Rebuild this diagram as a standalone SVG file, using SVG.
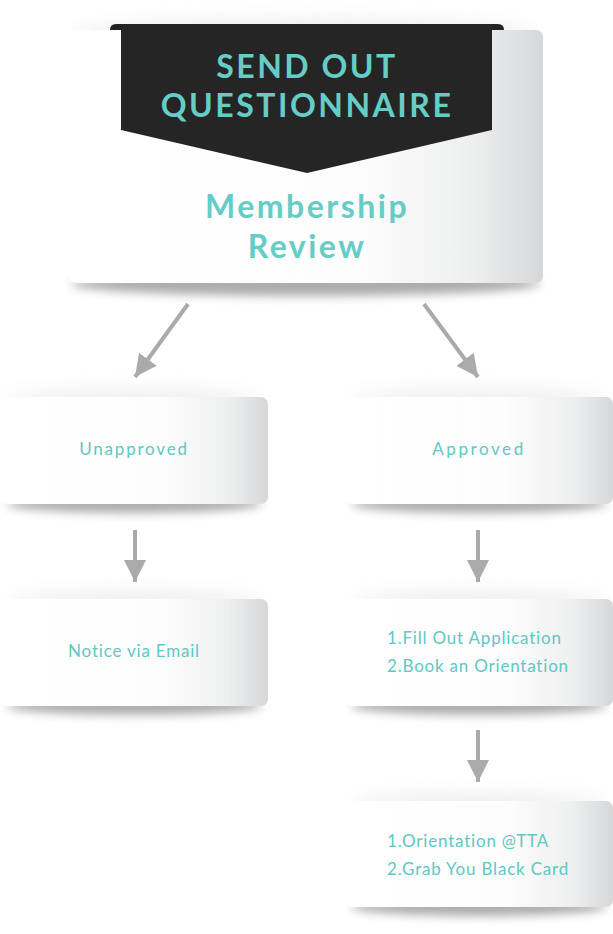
<svg xmlns="http://www.w3.org/2000/svg" width="613" height="934" viewBox="0 0 613 934">
<defs>
<linearGradient id="card" x1="0" y1="0" x2="1" y2="0">
<stop offset="0" stop-color="#ffffff"/>
<stop offset="0.6" stop-color="#fdfdfd"/>
<stop offset="0.85" stop-color="#eeefef"/>
<stop offset="1" stop-color="#d6d7d9"/>
</linearGradient>
<filter id="blur" x="-20%" y="-100%" width="140%" height="300%">
<feGaussianBlur stdDeviation="5"/>
</filter>
<filter id="glow" x="-20%" y="-100%" width="140%" height="300%">
<feGaussianBlur stdDeviation="8"/>
</filter>
<marker id="ah" viewBox="0 0 10 10" refX="10" refY="5" markerWidth="5.5" markerHeight="5.5" orient="auto" markerUnits="strokeWidth">
<path d="M0,0 L10,5 L0,10 z" fill="#aaaaaa"/>
</marker>
</defs>
<style>
.shadow{fill:#808080;opacity:0.65;filter:url(#blur)}
.glowc{fill:#e6e6e6;opacity:0.6;filter:url(#glow)}
.cardr{fill:url(#card)}
.lbl{font-family:"Lato","Open Sans","Liberation Sans",sans-serif;fill:#5ec8c3;font-size:17px;letter-spacing:0.8px}
.word{letter-spacing:1.8px}
.word2{letter-spacing:2.6px}
.big{font-family:"Lato","Liberation Sans",sans-serif;font-weight:bold;fill:#66ccc6;letter-spacing:2.5px}
.conn{stroke:#aaaaaa;stroke-width:4;fill:none}
</style>
<rect width="613" height="934" fill="#ffffff"/>

<g id="node-top">
<ellipse class="glowc" cx="306" cy="32" rx="230" ry="14"/>
<ellipse class="shadow" cx="306" cy="284" rx="235" ry="12"/>
<rect class="cardr" x="69" y="30" width="474" height="253" rx="7"/>
<path d="M110,30 Q110,24 116,24 L498,24 Q504,24 504,30 Z" fill="#222222"/>
<path d="M121,24 L492,24 L492,130 L307,173 L121,130 Z" fill="#252525"/>
<text class="big" x="307" y="78" font-size="32" text-anchor="middle">SEND OUT</text>
<text class="big" x="307" y="117" font-size="32" text-anchor="middle">QUESTIONNAIRE</text>
<text class="big" x="307" y="218" font-size="32" text-anchor="middle">Membership</text>
<text class="big" x="307" y="258" font-size="32" text-anchor="middle">Review</text>
</g>

<g id="node-unapproved">
<ellipse class="glowc" cx="134" cy="398" rx="125" ry="10"/>
<ellipse class="shadow" cx="134" cy="504" rx="128" ry="9"/>
<rect class="cardr" x="0" y="397" width="268" height="107" rx="7"/>
<text class="lbl word" x="134" y="455" text-anchor="middle">Unapproved</text>
</g>

<g id="node-approved">
<ellipse class="glowc" cx="479" cy="398" rx="125" ry="10"/>
<ellipse class="shadow" cx="479" cy="504" rx="128" ry="9"/>
<rect class="cardr" x="345" y="397" width="268" height="107" rx="7"/>
<text class="lbl word2" x="479" y="455" text-anchor="middle">Approved</text>
</g>

<g id="node-notice">
<ellipse class="glowc" cx="134" cy="600" rx="125" ry="10"/>
<ellipse class="shadow" cx="134" cy="706" rx="128" ry="9"/>
<rect class="cardr" x="0" y="599" width="268" height="107" rx="7"/>
<text class="lbl" x="134" y="657" text-anchor="middle">Notice via Email</text>
</g>

<g id="node-fill">
<ellipse class="glowc" cx="479" cy="600" rx="125" ry="10"/>
<ellipse class="shadow" cx="479" cy="706" rx="128" ry="9"/>
<rect class="cardr" x="345" y="599" width="268" height="107" rx="7"/>
<text class="lbl" x="387" y="644">1.Fill Out Application</text>
<text class="lbl" x="387" y="672">2.Book an Orientation</text>
</g>

<g id="node-orientation">
<ellipse class="glowc" cx="479" cy="802" rx="125" ry="10"/>
<ellipse class="shadow" cx="479" cy="907" rx="128" ry="9"/>
<rect class="cardr" x="345" y="801" width="268" height="106" rx="7"/>
<text class="lbl" x="387" y="847">1.Orientation @TTA</text>
<text class="lbl" x="387" y="875">2.Grab You Black Card</text>
</g>

<g id="connectors">
<line class="conn" x1="188" y1="304" x2="135" y2="377" marker-end="url(#ah)"/>
<line class="conn" x1="424" y1="304" x2="478" y2="377" marker-end="url(#ah)"/>
<line class="conn" x1="135" y1="530" x2="135" y2="582" marker-end="url(#ah)"/>
<line class="conn" x1="478" y1="530" x2="478" y2="582" marker-end="url(#ah)"/>
<line class="conn" x1="478" y1="730" x2="478" y2="782" marker-end="url(#ah)"/>
</g>
</svg>
